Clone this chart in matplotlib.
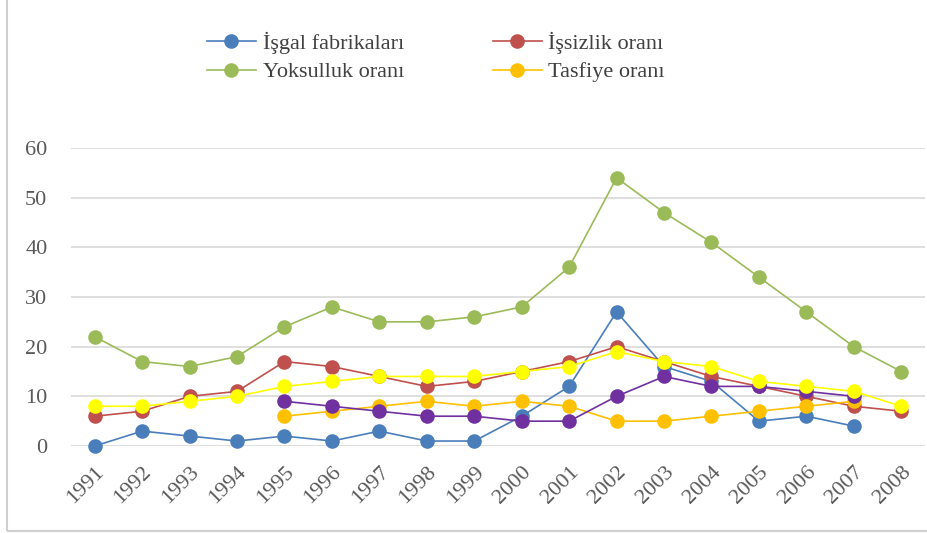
import matplotlib.pyplot as plt
from matplotlib.patches import Rectangle

years = list(range(1991, 2009))

isgal = [0, 3, 2, 1, 2, 1, 3, 1, 1, 6, 12, 27, 16, 13, 5, 6, 4, None]
issizlik = [6, 7, 10, 11, 17, 16, 14, 12, 13, 15, 17, 20, 17, 14, 12, 10, 8, 7]
yoksulluk = [22, 17, 16, 18, 24, 28, 25, 25, 26, 28, 36, 54, 47, 41, 34, 27, 20, 15]
tasfiye = [None, None, None, None, 6, 7, 8, 9, 8, 9, 8, 5, 5, 6, 7, 8, 9, None]
mor = [None, None, None, None, 9, 8, 7, 6, 6, 5, 5, 10, 14, 12, 12, 11, 10, None]
sari = [8, 8, 9, 10, 12, 13, 14, 14, 14, 15, 16, 19, 17, 16, 13, 12, 11, 8]

series = [
    ("İşgal fabrikaları", isgal, "#4a7ebb"),
    ("İşsizlik oranı", issizlik, "#c0504d"),
    ("Yoksulluk oranı", yoksulluk, "#9bbb59"),
    ("Tasfiye oranı", tasfiye, "#ffc000"),
    ("_mor", mor, "#7030a0"),
    ("_sari", sari, "#ffff00"),
]

plt.rcParams["font.family"] = ["Liberation Serif", "DejaVu Serif"]

fig = plt.figure(figsize=(9.28, 5.33), dpi=100)
ax = fig.add_axes([71 / 928, 1 - 446 / 533, (925 - 71) / 928, (446 - 148) / 533])

x = list(range(len(years)))
handles = []
for label, values, color in series:
    xs = [i for i, v in zip(x, values) if v is not None]
    ys = [v for v in values if v is not None]
    h, = ax.plot(xs, ys, color=color, lw=1.2, marker="o", markersize=10.5,
                 markeredgewidth=0, label=label, clip_on=False)
    handles.append(h)

ax.set_xlim(-0.5, len(years) - 0.5)
ax.set_ylim(0, 60)
ax.set_yticks(range(0, 61, 10))
ax.set_xticks(x)
ax.set_xticklabels(years, rotation=45, ha="right", rotation_mode="anchor")
ax.tick_params(axis="both", length=0, labelsize=16, colors="#595959")
ax.tick_params(axis="y", pad=17)
ax.tick_params(axis="x", pad=12)
ax.grid(axis="y", color="#d9d9d9", lw=1.2)
ax.set_axisbelow(True)
for sp in ax.spines.values():
    sp.set_visible(False)

# legend filled row by row, like the original
order = [0, 2, 1, 3]
fig.legend([handles[i] for i in order], [series[i][0] for i in order], ncol=2,
           loc="upper left", bbox_to_anchor=(187 / 928, 1 - 12 / 533),
           frameon=False, fontsize=16, labelcolor="#404040", columnspacing=4.0,
           handlelength=2.2, handletextpad=0.3, labelspacing=0.35)

fig.patches.append(Rectangle((7 / 928, 2 / 533), 930 / 928, 540 / 533, transform=fig.transFigure,
                             fill=False, edgecolor="#d0d0d0", lw=1.5))

fig.savefig("out.png", dpi=100)
